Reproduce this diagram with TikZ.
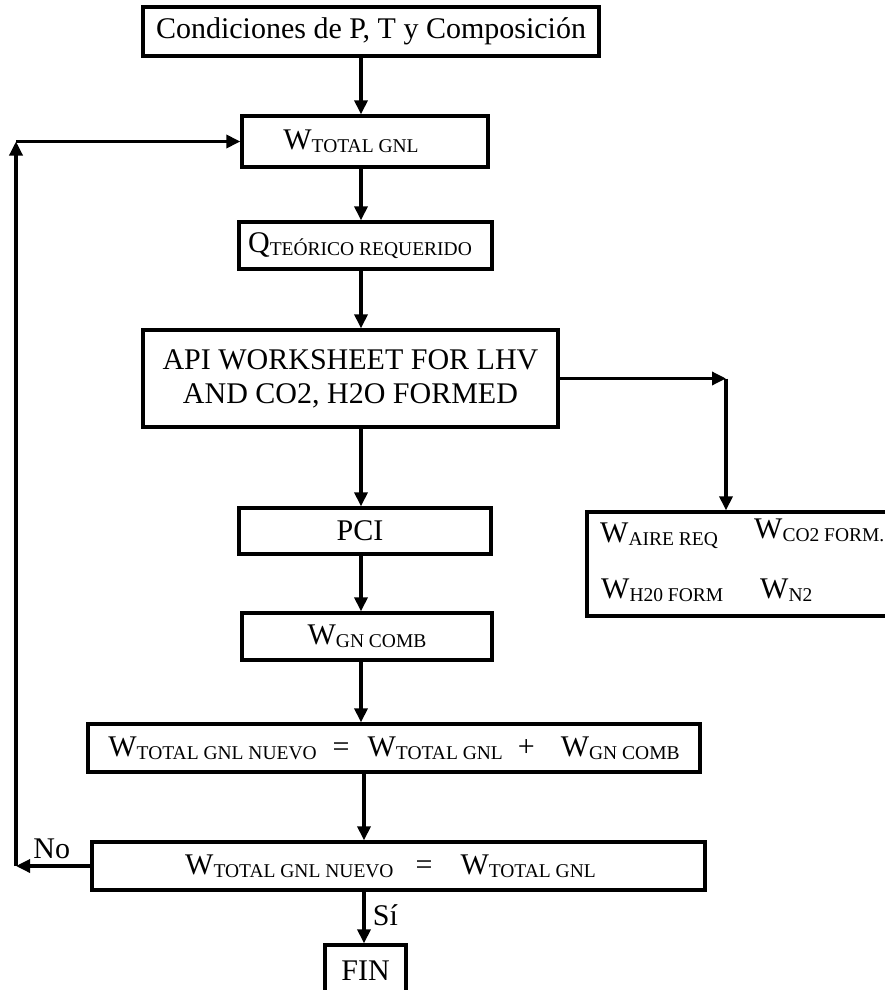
\documentclass[tikz,border=0pt]{standalone}
\usepackage{fontspec}
\setmainfont{Liberation Serif}
\usetikzlibrary{arrows.meta}

% subscript set in smaller capitals, slightly lowered
\newcommand{\lowsub}[1]{\raisebox{-3pt}{\fontsize{19.5}{20}\selectfont #1}}

\tikzset{
  flowbox/.style={draw, line width=3.3pt, inner sep=0pt, align=center},
  flowarrow/.style={line width=3.3pt, -{Triangle[length=14pt,width=13pt]}},
  every node/.style={font=\fontsize{30}{34}\selectfont}
}

\begin{document}
\begin{tikzpicture}[x=1pt,y=1pt]
  \useasboundingbox (0,0) rectangle (885,-990);
  \fill[white] (0,0) rectangle (885,-990);
  \clip (0,0) rectangle (885,-990);

  % main column
  \node[flowbox, minimum width=456pt, minimum height=49pt] (cond) at (371,-31.5)
    {Condiciones de P, T y Composición};
  \node[flowbox, minimum width=246pt, minimum height=51pt] (wtot) at (365,-141.5)
    {W\lowsub{TOTAL GNL}\hspace{28pt}};
  \node[flowbox, minimum width=253pt, minimum height=47pt] (qteo) at (365.5,-245.5)
    {Q\lowsub{TEÓRICO REQUERIDO}\hspace{11pt}};
  \node[flowbox, minimum width=415pt, minimum height=97pt] (api) at (350.5,-378.5)
    {API WORKSHEET FOR LHV\\AND CO2, H2O FORMED};
  \node[flowbox, minimum width=252pt, minimum height=46pt] (pci) at (365,-531)
    {PCI\hspace{10pt}};
  \node[flowbox, minimum width=250pt, minimum height=47pt] (wgn) at (367,-636.5)
    {W\lowsub{GN COMB}};
  \node[flowbox, minimum width=612pt, minimum height=48pt] (suma) at (394,-748)
    {W\lowsub{TOTAL GNL NUEVO}\hspace{16pt}=\hspace{18pt}W\lowsub{TOTAL GNL}\hspace{15pt}+\hspace{26pt}W\lowsub{GN COMB}};
  \node[flowbox, minimum width=613pt, minimum height=48pt] (test) at (398.5,-866)
    {W\lowsub{TOTAL GNL NUEVO}\hspace{22pt}=\hspace{28pt}W\lowsub{TOTAL GNL}\hspace{16pt}};
  \node[flowbox, minimum width=81pt, minimum height=52pt] (fin) at (365.5,-971)
    {FIN};

  % side box with the combustion products
  \node[flowbox, minimum width=313pt, minimum height=104pt] (prod) at (743.5,-564) {};
  \node[anchor=base west, inner sep=0pt] (aire) at (600,-542) {W\lowsub{AIRE REQ}};
  \node[anchor=base west, inner sep=0pt] (co2) at (754,-538) {W\lowsub{CO2 FORM.}};
  \node[anchor=base west, inner sep=0pt] (h2o) at (601,-598) {W\lowsub{H20 FORM}};
  \node[anchor=base west, inner sep=0pt] (n2) at (760,-598) {W\lowsub{N2}};

  % routing points
  \coordinate (col) at (361,0);
  \coordinate (branch) at (726,-378.5);
  \coordinate (loopbot) at (16,-866);
  \coordinate (looptop) at (16,-141.5);

  % vertical flow
  \draw[flowarrow] (cond.south -| col) -- (wtot.north -| col);
  \draw[flowarrow] (wtot.south -| col) -- (qteo.north -| col);
  \draw[flowarrow] (qteo.south -| col) -- (api.north -| col);
  \draw[flowarrow] (api.south -| col) -- (pci.north -| col);
  \draw[flowarrow] (pci.south -| col) -- (wgn.north -| col);
  \draw[flowarrow] (wgn.south -| col) -- (suma.north -| col);
  \draw[flowarrow] ([xshift=3pt]suma.south -| col) -- ([xshift=3pt]test.north -| col);
  \draw[flowarrow] ([xshift=3pt]test.south -| col) -- node[right=4pt, pos=0.45] (si) {Sí} ([xshift=3pt]fin.north -| col);

  % branch to the products box
  \draw[flowarrow] (api.east) -- (branch);
  \draw[flowarrow] (branch) -- (branch |- prod.north);

  % return loop
  \draw[flowarrow] (test.west) -- node[above=2pt, pos=0.52] (no) {No} (loopbot);
  \draw[flowarrow] (loopbot) -- (looptop);
  \draw[flowarrow] (looptop) -- (wtot.west);
\end{tikzpicture}
\end{document}
